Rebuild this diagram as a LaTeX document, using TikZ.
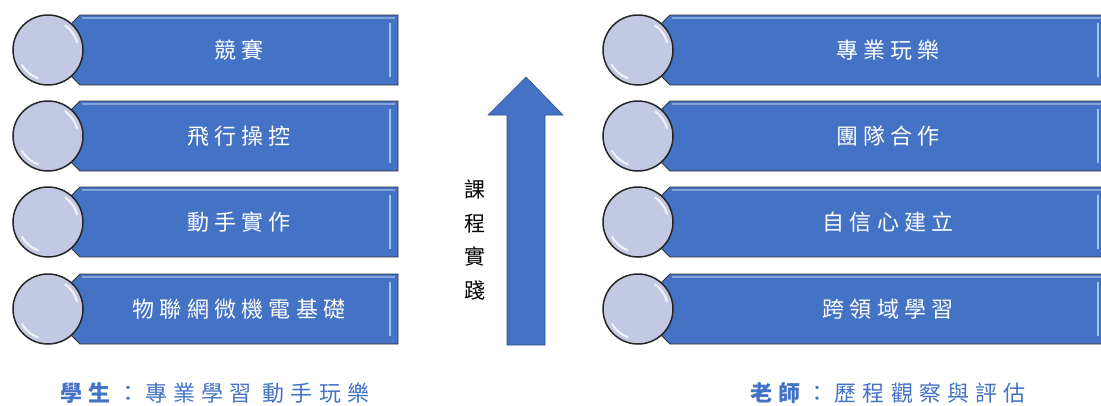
\documentclass[tikz,border=0pt]{standalone}
\usepackage{fontspec}
\newfontfamily\cjk[LetterSpace=24]{Noto Sans CJK TC}
\newfontfamily\cjkfoot[LetterSpace=28]{Noto Sans CJK TC}
\newfontfamily\cjkplain{Noto Sans CJK TC}
\usetikzlibrary{calc}
\definecolor{boxblue}{HTML}{4472C4}
\definecolor{knobfill}{HTML}{C3C9E2}
\definecolor{bevel}{HTML}{9DC3F0}
\definecolor{labelblue}{HTML}{4472C4}
\tikzset{
  barbox/.style={fill=boxblue, draw=black!80, line width=0.9pt},
  knob/.style={circle, fill=knobfill, draw=black!85, line width=1.5pt, minimum size=70pt, inner sep=0pt},
  bartext/.style={text=white, font=\cjk\fontsize{22}{22}\selectfont, inner sep=0pt},
  bevelline/.style={draw=bevel, line width=2pt},
  shine/.style={draw=white, line width=2pt, opacity=0.8, line cap=round},
  bigarrow/.style={fill=boxblue, draw=boxblue!70!black, line width=0.6pt},
  sidetext/.style={font=\cjkplain\fontsize{21}{33.5}\selectfont, align=center, inner sep=0pt},
  footlabel/.style={text=labelblue, font=\cjkfoot\fontsize{22}{22}\selectfont, inner sep=0pt}
}
% #1 name, #2 circle x, #3 y, #4 rect right x, #5 text
\newcommand\barrow[5]{%
  \path[barbox] ({#2+32},{#3-35}) -- (#4,{#3-35}) -- (#4,{#3+35}) -- ({#2+32},{#3+35}) -- ({#2+22},{#3+25}) -- ({#2+22},{#3-25}) -- cycle;
  \draw[bevelline] ({#4-8},{#3-27}) -- ({#4-8},{#3+27});
  \draw[draw=white, opacity=0.35, line width=1.2pt] ({#2+34},{#3-32}) -- ({#4-3},{#3-32});
  \node[bartext] (#1text) at ({(#2+32+#4)/2},#3) {#5};
  \node[knob] (#1knob) at (#2,#3) {};
  \draw[shine] ($(#1knob.center)+(150:30)$) arc[start angle=150, end angle=110, radius=30];
  \draw[shine] ($(#1knob.center)+(-15:30)$) arc[start angle=-15, end angle=-55, radius=30];
}
\begin{document}
\begin{tikzpicture}[x=1pt, y=-1pt]
\useasboundingbox (0,0) rectangle (1101,405);
\begin{scope}
\clip (0,0) rectangle (1101,405);
\barrow{a}{48}{50}{398}{競賽}
\barrow{b}{48}{136}{398}{飛行操控}
\barrow{c}{48}{222}{398}{動手實作}
\barrow{d}{48}{309}{398}{物聯網微機電基礎}
\barrow{e}{638}{50}{1106}{專業玩樂}
\barrow{f}{638}{136}{1106}{團隊合作}
\barrow{g}{638}{222}{1106}{自信心建立}
\barrow{h}{638}{309}{1106}{跨領域學習}
\end{scope}
% central arrow
\path[bigarrow] (507,345) -- (545,345) -- (545,115) -- (563,115) -- (526,77) -- (488,115) -- (507,115) -- cycle;
\node[sidetext] (side) at (475,240) {課\\程\\實\\踐};
\node[footlabel] (studentlabel) at (215,393) {\textbf{學生}：專業學習 動手玩樂};
\node[footlabel] (teacherlabel) at (888,393) {\textbf{老師}：歷程觀察與評估};
\end{tikzpicture}
\end{document}
